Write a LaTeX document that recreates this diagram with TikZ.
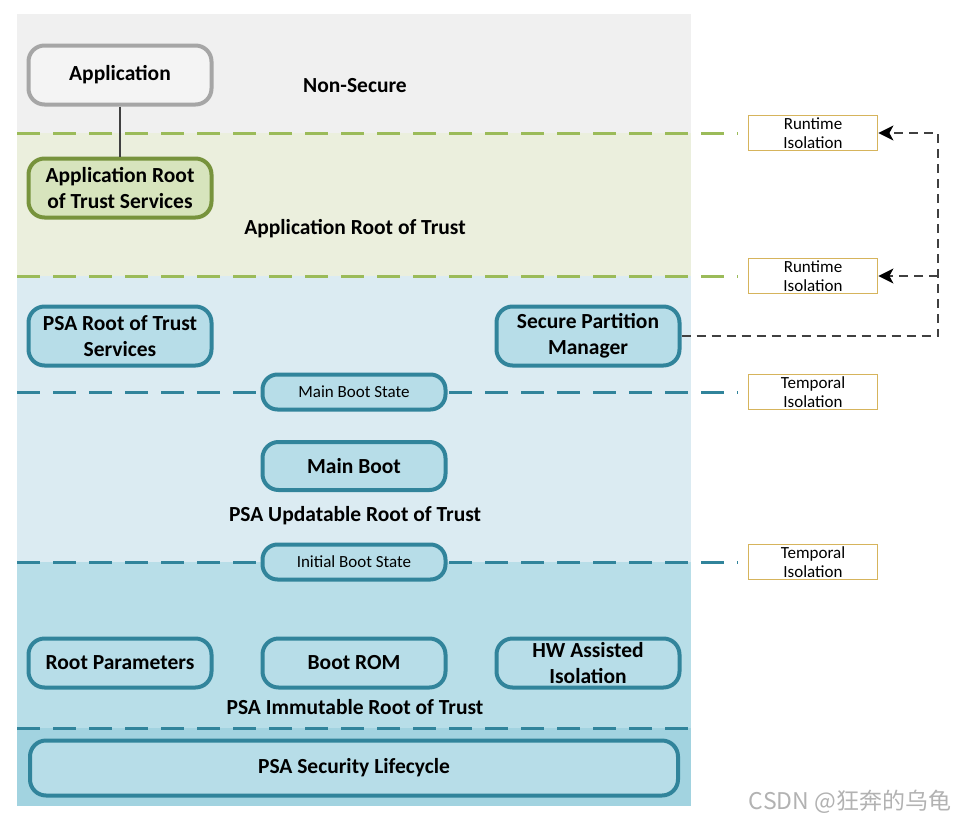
\documentclass[tikz,border=0pt]{standalone}
\usepackage{fontspec}
\setmainfont{Carlito}
\newfontfamily\cjkfont{Noto Sans CJK SC}
\usetikzlibrary{arrows.meta,positioning}

\definecolor{nsgray}{HTML}{F0F0F0}
\definecolor{arotbg}{HTML}{EBEFDD}
\definecolor{updbg}{HTML}{DBEBF2}
\definecolor{immbg}{HTML}{B8DEE8}
\definecolor{lcbg}{HTML}{A2D3E0}
\definecolor{psateal}{HTML}{31849B}
\definecolor{psafill}{HTML}{B7DDE8}
\definecolor{arotline}{HTML}{77933C}
\definecolor{arotfill}{HTML}{D7E4BD}
\definecolor{arotdashc}{HTML}{9BBB59}
\definecolor{appline}{HTML}{A6A6A6}
\definecolor{appfill}{HTML}{F4F4F4}
\definecolor{isogold}{HTML}{D6B45C}

\begin{document}
\begin{tikzpicture}[x=1pt,y=-1pt,
    bigbox/.style={line width=4pt, rounded corners=16pt, minimum width=183pt,
      minimum height=59pt, inner sep=0pt, align=center,
      font=\bfseries\fontsize{21.5}{26}\selectfont},
    psabox/.style={bigbox, draw=psateal, fill=psafill},
    statebox/.style={draw=psateal, fill=psafill, line width=4pt, rounded corners=15pt,
      minimum width=183pt, minimum height=35pt, inner sep=0pt,
      font=\fontsize{17}{19}\selectfont},
    isobox/.style={draw=isogold, line width=1.8pt, fill=white, minimum width=129pt,
      minimum height=35pt, inner sep=0pt, align=center,
      font=\fontsize{17}{19.5}\selectfont},
    layerlabel/.style={font=\bfseries\fontsize{21.5}{24}\selectfont},
    arotdash/.style={draw=arotdashc, line width=3pt, dash pattern=on 23pt off 13pt, shorten >=10pt},
    psadash/.style={draw=psateal, line width=3pt, dash pattern=on 23pt off 13pt, shorten >=10pt},
    isoarrow/.style={draw=black!75, line width=1.6pt, dash pattern=on 9pt off 6pt,
      -{Stealth[length=15pt,width=15pt,inset=4pt,black]}}]

    \useasboundingbox (0,0) rectangle (969,819);

    % Layers
    \fill[nsgray] (17,14) rectangle (691,133);
    \fill[arotbg] (17,133) rectangle (691,276);
    \fill[updbg] (17,276) rectangle (691,562);
    \fill[immbg] (17,562) rectangle (691,728);
    \fill[lcbg] (17,728) rectangle (691,806);

    % Isolation boxes
    \node[isobox] (rt1) at (813,133) {Runtime\\Isolation};
    \node[isobox] (rt2) at (813,276) {Runtime\\Isolation};
    \node[isobox] (tmp1) at (813,392) {Temporal\\Isolation};
    \node[isobox] (tmp2) at (813,562) {Temporal\\Isolation};

    % Boundaries
    \coordinate (nsedge) at (17,133);
    \coordinate (arotedge) at (17,276);
    \coordinate (mainedge) at (17,392);
    \coordinate (initedge) at (17,562);
    \coordinate (lcleft) at (17,728);
    \coordinate (lcright) at (691,728);
    \draw[arotdash] (nsedge) -- (rt1.west);
    \draw[arotdash] (arotedge) -- (rt2.west);
    \draw[psadash] (mainedge) -- (tmp1.west);
    \draw[psadash] (initedge) -- (tmp2.west);
    \draw[psadash, shorten >=0pt] (lcleft) -- (lcright);

    % Non-secure
    \node[bigbox, draw=appline, fill=appfill] (app) at (120,75) {Application};
    \node[layerlabel] (nslabel) at (355,86) {Non-Secure};

    % Application RoT
    \node[bigbox, draw=arotline, fill=arotfill] (arots) at (120,188) {Application Root\\of Trust Services};
    \node[layerlabel] (arotlabel) at (355,229) {Application Root of Trust};
    \draw[black!75, line width=1.5pt] (app) -- (arots);

    % PSA updatable RoT
    \node[psabox] (psarots) at (120,336) {PSA Root of Trust\\Services};
    \node[psabox] (spm) at (588,336) {Secure Partition\\Manager};
    \node[statebox] (mainstate) at (354,392) {Main Boot State};
    \node[psabox, minimum height=48pt] (mainboot) at (354,466) {Main Boot};
    \node[layerlabel] (updlabel) at (355,516) {PSA Updatable Root of Trust};
    \node[statebox] (initstate) at (354,562) {Initial Boot State};

    % PSA immutable RoT
    \node[psabox, minimum height=49pt] (rootparam) at (120,663) {Root Parameters};
    \node[psabox, minimum height=49pt] (bootrom) at (354,663) {Boot ROM};
    \node[psabox, minimum height=49pt] (hwiso) at (588,663) {HW Assisted\\Isolation};
    \node[layerlabel] (immlabel) at (355,707) {PSA Immutable Root of Trust};

    % Lifecycle
    \node[psabox, minimum width=648pt, minimum height=55pt] (lifecycle) at (354,768) {PSA Security Lifecycle};

    % SPM isolation arrows
    \coordinate (bend) at (938,336);
    \draw[isoarrow] (spm.east) -- (bend) |- (rt1.east);
    \draw[isoarrow] (bend |- rt2.east) -- (rt2.east);

    % Watermark
    \node[text=black!30, font=\cjkfont\fontsize{23}{26}\selectfont] (mark) at (850,802) {CSDN @狂奔的乌龟};
\end{tikzpicture}
\end{document}
